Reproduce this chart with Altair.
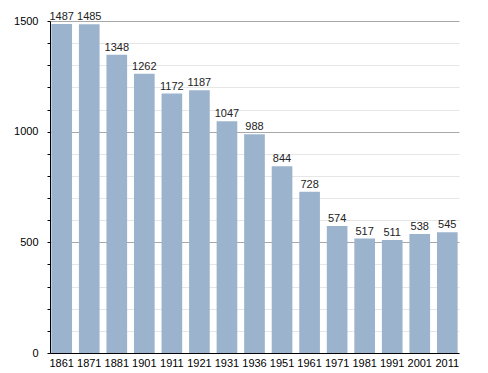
import altair as alt
import pandas as pd

years = ["1861", "1871", "1881", "1901", "1911", "1921", "1931", "1936",
         "1951", "1961", "1971", "1981", "1991", "2001", "2011"]
population = [1487, 1485, 1348, 1262, 1172, 1187, 1047, 988,
              844, 728, 574, 517, 511, 538, 545]
y_ticks = list(range(0, 1501, 100))

df = pd.DataFrame({"year": years, "pop": population})

FONT = "Liberation Sans"

base = alt.Chart(df).encode(
    x=alt.X("year:N", sort=None, title=None,
            scale=alt.Scale(paddingInner=0.25, paddingOuter=0.05),
            axis=alt.Axis(labelAngle=0, ticks=False, domainColor="#000",
                          labelColor="#000", labelFont=FONT, labelFontSize=11,
                          labelPadding=4)),
    y=alt.Y("pop:Q", title=None,
            scale=alt.Scale(domain=[0, 1500], nice=False),
            axis=alt.Axis(values=y_ticks, format="d",
                          labelExpr="datum.value % 500 === 0 ? datum.label : ''",
                          grid=True,
                          gridColor={"condition": {"test": "datum.value % 500 === 0", "value": "#a8a8a8"},
                                     "value": "#e6e6e6"},
                          tickSize=3, tickColor="#000", domainColor="#000",
                          labelColor="#000", labelFont=FONT, labelFontSize=11,
                          labelPadding=9)),
)

bars = base.mark_bar(color="#9bb3cc")
labels = base.mark_text(baseline="bottom", dy=-2, font=FONT, fontSize=11,
                        color="#222").encode(text="pop:Q")

chart = (bars + labels).properties(
    width=409, height=332,
    autosize=alt.AutoSizeParams(type="none"),
    padding={"left": 42, "top": 13, "right": 10, "bottom": 20},
).configure_view(stroke=None)

chart.save("out.html", embed_options={"renderer": "svg", "actions": False})
